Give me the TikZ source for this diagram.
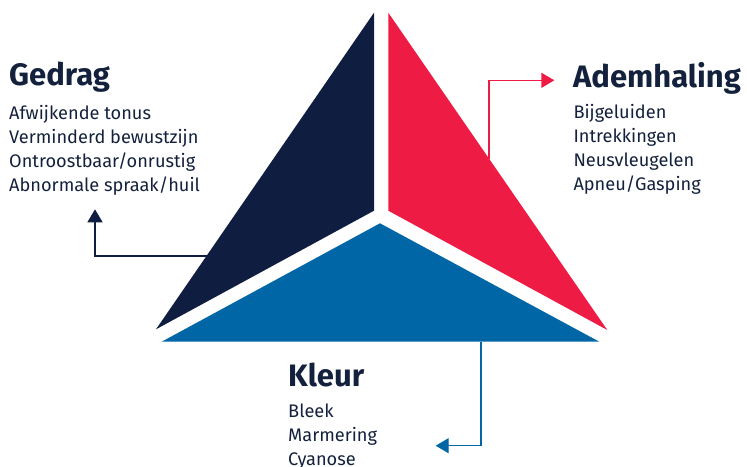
\documentclass[tikz,border=0pt]{standalone}
\usepackage{fontspec}
\setmainfont{Fira Sans}
\usetikzlibrary{arrows.meta}
\definecolor{navy}{HTML}{0F1D40}
\definecolor{alarmred}{HTML}{EE1B44}
\definecolor{deepblue}{HTML}{0066A6}
\definecolor{inkblue}{HTML}{14213D}
\tikzset{
  title/.style={anchor=base west, inner sep=0pt, text=inkblue, font=\fontsize{31}{31}\selectfont\bfseries},
  item/.style={anchor=base west, inner sep=0pt, text=inkblue, font=\fontsize{18.2}{18.2}\selectfont},
  link/.style={line width=1.4pt, -{Triangle[length=13pt,width=15pt]}},
}
\begin{document}
\begin{tikzpicture}[x=1pt,y=-1pt]
\useasboundingbox (0,0) rectangle (747,466);
% three segments of the triangle
\fill[navy] (374,12.7) -- (374,210.7) -- (156,329.3) -- cycle;
\fill[alarmred] (388.3,12.7) -- (388.3,210.7) -- (607.3,330) -- cycle;
\fill[deepblue] (380,223.3) -- (599.3,341.7) -- (161.7,341.7) -- cycle;
% Gedrag
\node[title] (gedrag) at (9,85) {Gedrag};
\node[item] (g1) at (9,119.3) {Afwijkende tonus};
\node[item] (g2) at (9,143.3) {Verminderd bewustzijn};
\node[item] (g3) at (9,167.3) {Ontroostbaar/onrustig};
\node[item] (g4) at (9,191.3) {Abnormale spraak/huil};
% Ademhaling
\node[title] (adem) at (573,87.3) {Ademhaling};
\node[item] (a1) at (573.3,118.3) {Bijgeluiden};
\node[item] (a2) at (573.3,142.3) {Intrekkingen};
\node[item] (a3) at (573.3,166.3) {Neusvleugelen};
\node[item] (a4) at (573.3,190.3) {Apneu/Gasping};
% Kleur
\node[title] (kleur) at (288,386.7) {Kleur};
\node[item] (k1) at (288,417.3) {Bleek};
\node[item] (k2) at (288,441.7) {Marmering};
\node[item] (k3) at (288,465.7) {Cyanose};
% connector end points
\coordinate (gstart) at (206.5,256);
\coordinate (gtip) at (95,209.3);
\coordinate (astart) at (489,158.6);
\coordinate (atip) at (554.3,80.3);
\coordinate (kstart) at (481,341.7);
\coordinate (ktip) at (435.7,445.7);
\draw[link,navy] (gstart) -| (gtip);
\draw[link,alarmred] (astart) |- (atip);
\draw[link,deepblue] (kstart) |- (ktip);
\end{tikzpicture}
\end{document}
